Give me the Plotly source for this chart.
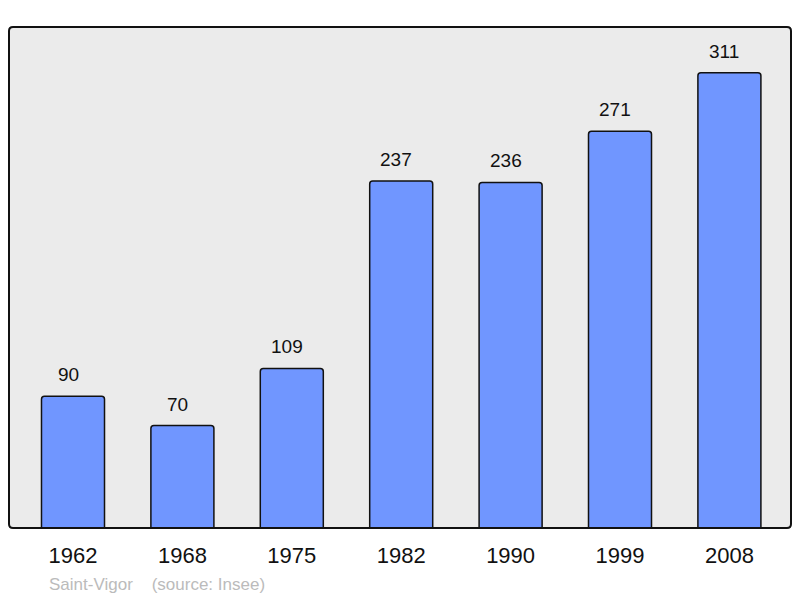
import plotly.graph_objects as go

years = ["1962", "1968", "1975", "1982", "1990", "1999", "2008"]
population = [90, 70, 109, 237, 236, 271, 311]

FONT = "Liberation Sans, Arial, sans-serif"

fig = go.Figure()
fig.add_trace(go.Bar(
    x=years, y=population, width=0.576,
    marker=dict(color="#7096ff", line=dict(color="#111111", width=1.5), cornerradius=3),
    hoverinfo="skip",
))

for i, v in enumerate(population):
    fig.add_annotation(x=i, y=v, text=str(v), showarrow=False,
                       yanchor="bottom", yshift=9, xshift=-5,
                       font=dict(size=19, color="#111111", family=FONT))

fig.add_annotation(xref="paper", yref="paper", x=(47 - 9) / 782, y=-(584 - 528) / 501,
                   xanchor="left", yanchor="middle", showarrow=False,
                   text="Saint-Vigor    (source: Insee)",
                   font=dict(size=17, color="#bbbbbb", family=FONT))

rx, ry = 4 / 782, 4 / 501
border = (f"M {rx},0 L {1-rx},0 Q 1,0 1,{ry} L 1,{1-ry} Q 1,1 {1-rx},1 "
          f"L {rx},1 Q 0,1 0,{1-ry} L 0,{ry} Q 0,0 {rx},0 Z")
fig.add_shape(type="path", xref="paper", yref="paper", path=border,
              line=dict(color="#111111", width=2), layer="above")

fig.update_layout(
    width=800, height=598,
    margin=dict(l=9, r=9, t=27, b=70),
    paper_bgcolor="white", plot_bgcolor="#ebebeb",
    showlegend=False,
    font=dict(family=FONT, color="#111111"),
    xaxis=dict(type="category", range=[-0.585, 6.563], showgrid=False, zeroline=False, ticks="",
               tickfont=dict(size=22, color="#111111"), ticklabelstandoff=12),
    yaxis=dict(range=[0, 342.2], showgrid=False, zeroline=False, showticklabels=False, ticks=""),
)

fig.write_html("out.html", config={"displayModeBar": False},
               post_script="document.body.style.margin='0';")
